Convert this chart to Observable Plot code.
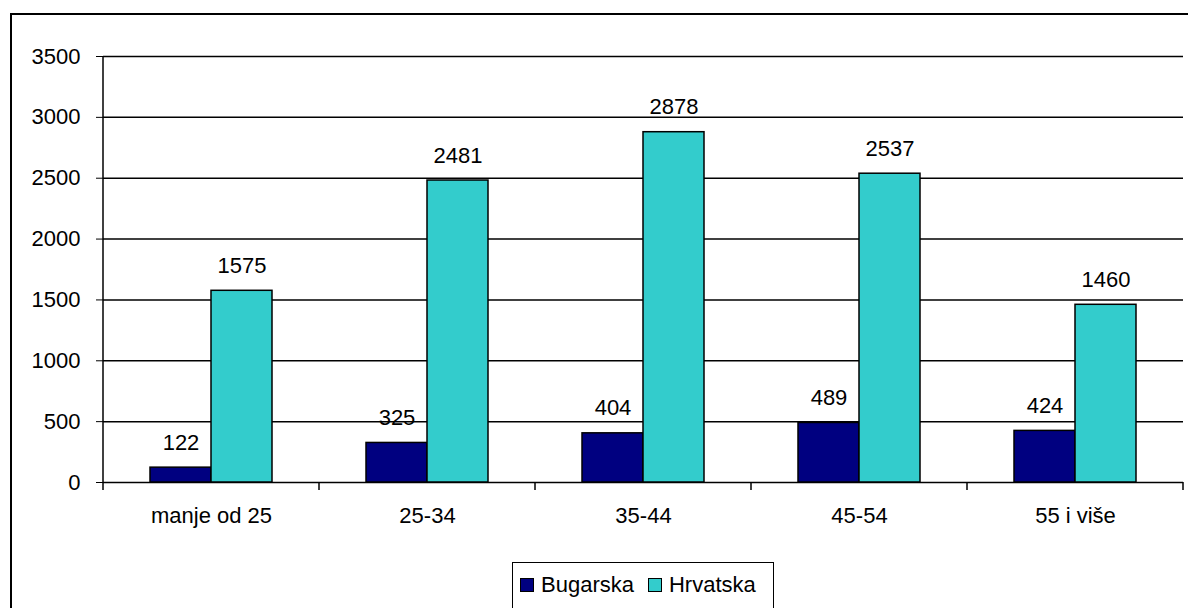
<!DOCTYPE html>
<html>
<head>
<meta charset="utf-8">
<script src="https://cdn.jsdelivr.net/npm/d3@7"></script>
<script src="https://cdn.jsdelivr.net/npm/@observablehq/plot@0.6"></script>
<style>
  html, body { margin: 0; padding: 0; background: #fff; }
  #wrap { position: relative; width: 1188px; height: 608px; overflow: hidden; font-family: "Liberation Sans", Arial, sans-serif; }
  #frame { position: absolute; left: 10px; top: 13px; width: 1300px; height: 700px; border: 2px solid #000; box-sizing: border-box; }
  #chart { position: absolute; left: 0; top: 0; }
  #legend { position: absolute; left: 512px; top: 562px; width: 262px; height: 60px; border: 1.5px solid #000; box-sizing: border-box; background: #fff;
            display: flex; align-items: flex-start; padding-top: 9px; padding-left: 7px; font-size: 22px; line-height: 26px; color: #000; }
  .item { display: flex; align-items: center; margin-right: 14px; }
  .sw { width: 14px; height: 14px; border: 1px solid #000; margin-right: 7px; box-sizing: border-box; }
</style>
</head>
<body>
<div id="wrap">
  <div id="frame"></div>
  <div id="chart"></div>
  <div id="legend"></div>
</div>
<script>
const ageGroups = ["manje od 25", "25-34", "35-44", "45-54", "55 i više"];
const series = ["Bugarska", "Hrvatska"];
const bugarska = [122, 325, 404, 489, 424];
const hrvatska = [1575, 2481, 2878, 2537, 1460];
const colors = ["#000080", "#33CCCC"];
const yTicks = [0, 500, 1000, 1500, 2000, 2500, 3000, 3500];

const data = [];
ageGroups.forEach((g, i) => {
  data.push({age: g, series: series[0], value: bugarska[i]});
  data.push({age: g, series: series[1], value: hrvatska[i]});
});

const chart = Plot.plot({
  width: 1188,
  height: 540,
  marginLeft: 102,
  marginRight: 4,
  marginTop: 56,
  marginBottom: 58,
  style: {fontFamily: "'Liberation Sans', Arial, sans-serif", fontSize: "22px", color: "#000", background: "transparent"},
  fx: {domain: ageGroups, padding: 0, label: null, axis: "bottom", tickSize: 0, tickPadding: 25},
  x: {domain: series, paddingInner: 0, paddingOuter: 0.747, axis: null},
  y: {domain: [0, 3500], ticks: yTicks, tickSize: 7, tickPadding: 16, label: null, tickFormat: d => String(d)},
  color: {domain: series, range: colors},
  marks: [
    Plot.ruleY(yTicks, {stroke: "#000", strokeWidth: 1.5}),
    Plot.barY(data, {fx: "age", x: "series", y: "value", fill: "series", stroke: "#000", strokeWidth: 1.5}),
    Plot.text(data, {fx: "age", x: "series", y: "value", text: d => String(d.value), dy: -25, fontSize: 22, fill: "#000"})
  ]
});
document.getElementById("chart").appendChild(chart);

// axis line and category boundary ticks, positioned with Plot's own scales
const fx = chart.scale("fx");
const y = chart.scale("y");
const bw = fx.bandwidth;
const edges = ageGroups.map(g => fx.apply(g));
edges.push(fx.apply(ageGroups[ageGroups.length - 1]) + bw);
const y0 = y.apply(0), yTop = y.apply(3500);
const g = d3.select(chart).append("g").attr("stroke", "#000").attr("stroke-width", 1.5);
g.append("line").attr("x1", edges[0]).attr("x2", edges[0]).attr("y1", yTop).attr("y2", y0);
edges.forEach(e => {
  g.append("line").attr("x1", e).attr("x2", e).attr("y1", y0).attr("y2", y0 + 8);
});

// legend
const legend = document.getElementById("legend");
series.forEach((s, i) => {
  const it = document.createElement("div");
  it.className = "item";
  const sw = document.createElement("div");
  sw.className = "sw";
  sw.style.background = colors[i];
  const t = document.createElement("span");
  t.textContent = s;
  it.appendChild(sw);
  it.appendChild(t);
  legend.appendChild(it);
});
</script>
</body>
</html>
